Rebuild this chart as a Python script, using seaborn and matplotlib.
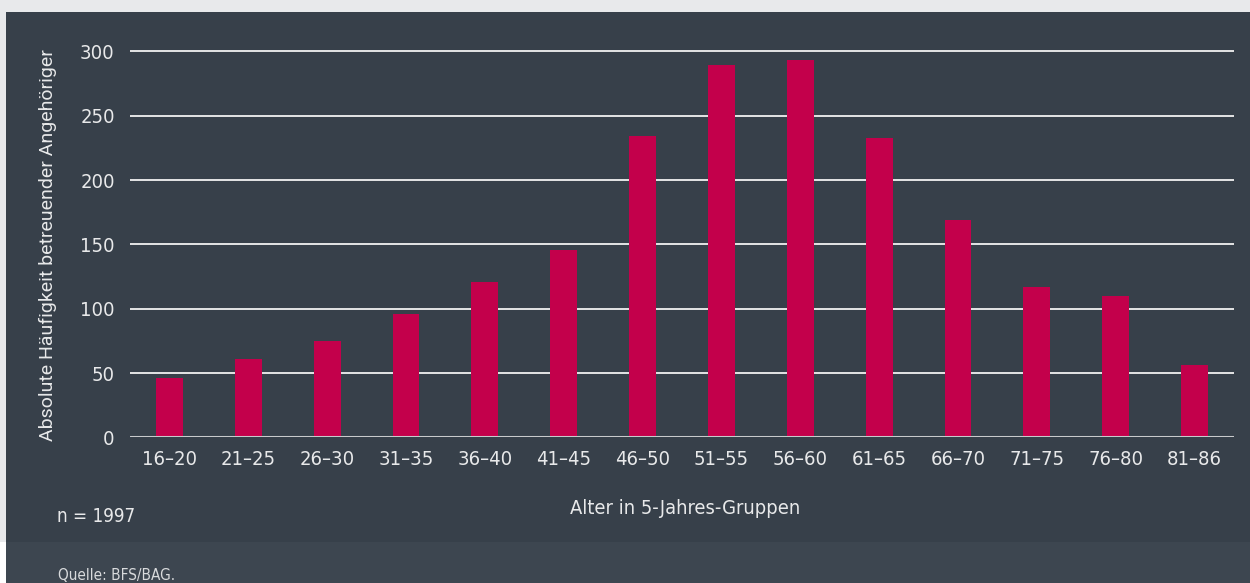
import matplotlib
matplotlib.use("Agg")
import matplotlib.pyplot as plt
from matplotlib.patches import Rectangle
import seaborn as sns
import pandas as pd

# data
age_groups = ["16–20", "21–25", "26–30", "31–35", "36–40", "41–45", "46–50",
              "51–55", "56–60", "61–65", "66–70", "71–75", "76–80", "81–86"]
counts = [46, 61, 75, 96, 121, 146, 234, 289, 293, 233, 169, 117, 110, 56]
y_ticks = [0, 50, 100, 150, 200, 250, 300]

panel = "#37404a"
footer = "#3d4650"
bar_col = "#c3004b"
txt = "#e8e9ea"
cond = ["Liberation Sans Narrow", "DejaVu Sans"]

sns.set_theme(style="white")
plt.rcParams["font.family"] = ["Roboto", "DejaVu Sans"]

W, H = 1250, 583
fig = plt.figure(figsize=(W / 100, H / 100), dpi=100, facecolor="#e8e9eb")

# background panels (figure pixel coords converted to fractions)
fig.patches.append(Rectangle((0, 0), 6 / W, 41 / H, transform=fig.transFigure,
                             facecolor="white", edgecolor="none", zorder=-5))
fig.patches.append(Rectangle((6 / W, 41 / H), 1 - 6 / W, (542 - 12) / H,
                             transform=fig.transFigure, facecolor=panel,
                             edgecolor="none", zorder=-5))
fig.patches.append(Rectangle((6 / W, 0), 1 - 6 / W, 41 / H,
                             transform=fig.transFigure, facecolor=footer,
                             edgecolor="none", zorder=-5))

ax = fig.add_axes([130 / W, (H - 437.4) / H, (1234 - 130) / W, (437.4 - 44.9) / H])
ax.set_facecolor("none")
ax.set_zorder(2)

df = pd.DataFrame({"Alter": age_groups, "Anzahl": counts})
sns.barplot(data=df, x="Alter", y="Anzahl", color=bar_col, saturation=1,
            width=0.34, linewidth=0, ax=ax, zorder=3)

ax.set_ylim(0, 305)
ax.set_xlim(-0.5, len(age_groups) - 0.5)
ax.set_yticks(y_ticks)
for v in y_ticks[1:]:
    ax.axhline(v, color="#f2f2f2", lw=1.3, zorder=2)
ax.axhline(0, color="#c8cacc", lw=2.2, zorder=4)

for s in ax.spines.values():
    s.set_visible(False)
ax.tick_params(axis="both", length=0, colors=txt)
ax.tick_params(axis="y", pad=11)
ax.tick_params(axis="x", pad=9)
for lab in ax.get_yticklabels() + ax.get_xticklabels():
    lab.set_family(cond)
    lab.set_stretch("condensed")
    lab.set_fontsize(14.5)
    lab.set_color(txt)

ax.set_xlabel("")
ax.set_ylabel("")
fig.text(48 / W, 1 - 245 / H, "Absolute Häufigkeit betreuender Angehöriger",
         rotation=90, ha="center", va="center", color=txt, fontsize=14)
fig.text(685 / W, 1 - 508 / H, "Alter in 5-Jahres-Gruppen", ha="center",
         va="center", color=txt, fontsize=14.4, family=cond, stretch="condensed")
fig.text(57 / W, 1 - 517 / H, "n = 1997", ha="left", va="center", color=txt,
         fontsize=13.5, family=cond, stretch="condensed")
fig.text(58 / W, 1 - 575 / H, "Quelle: BFS/BAG.", ha="left", va="center",
         color="#d8dadc", fontsize=11, family=cond, stretch="condensed")

fig.savefig("out.png", dpi=100, facecolor=fig.get_facecolor())
